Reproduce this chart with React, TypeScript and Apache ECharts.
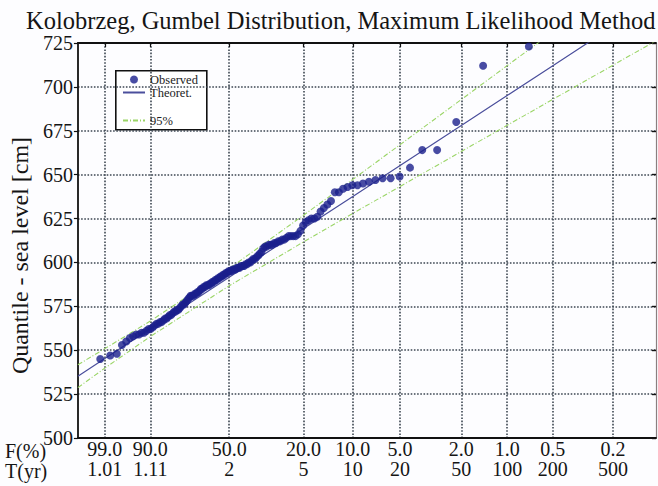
import React, { useEffect, useRef } from 'react';
import * as echarts from 'echarts';

// Exceedance probabilities (%) marked on the Gumbel probability axis, with return periods
const EXCEED_PCT = [99, 90, 50, 20, 10, 5, 2, 1, 0.5, 0.2];
const F_LABELS = ['99.0', '90.0', '50.0', '20.0', '10.0', '5.0', '2.0', '1.0', '0.5', '0.2'];
const T_LABELS = ['1.01', '1.11', '2', '5', '10', '20', '50', '100', '200', '500'];

// Annual maximum sea levels at Kolobrzeg [cm], sorted ascending
const OBSERVED = [
  545, 547, 548, 553, 555, 557, 558, 559, 559, 560,
  560, 561, 562, 562, 563, 564, 565, 565, 566, 566,
  567, 568, 568, 569, 570, 570, 571, 572, 572, 573,
  573, 574, 575, 576, 576, 577, 578, 579, 580, 581,
  581, 581, 582, 582, 583, 583, 584, 585, 585, 586,
  586, 587, 587, 587, 588, 588, 589, 589, 590, 590,
  591, 591, 592, 592, 593, 593, 594, 594, 595, 595,
  595, 596, 596, 596, 597, 597, 597, 598, 598, 598,
  599, 599, 600, 600, 601, 602, 602, 603, 604, 605,
  606, 608, 609, 609, 610, 610, 610, 611, 611, 612,
  612, 613, 613, 614, 615, 615, 615, 615, 616, 618,
  621, 623, 624, 625, 625, 626, 629, 631, 633, 635,
  640, 640, 642, 643, 644, 644, 645, 646, 647, 648,
  648, 649, 654, 664, 664, 680, 712, 723,
];

// Fitted quantile curve and its 95% confidence limits, at Gumbel reduced variates
const CURVE_Y = [-1.937, -1.527, -0.834, 0.367, 1.5, 2.25, 2.97, 3.902, 4.6, 5.296, 6.214, 6.867];
const THEORETICAL = [535.2, 545.3, 562.2, 591.6, 619.3, 637.6, 655.2, 678.0, 695.1, 712.1, 734.5, 750.5];
const UPPER_95 = [541.7, 550.9, 566.6, 596.5, 626.9, 647.3, 667.1, 692.8, 712.1, 731.3, 756.6, 774.7];
const LOWER_95 = [528.7, 539.8, 557.8, 586.7, 611.7, 627.9, 643.3, 663.2, 678.1, 692.9, 712.4, 726.3];

const FONT = "'Liberation Serif', 'Times New Roman', serif";

// Gumbel reduced variate of a non-exceedance probability
const reduced = (nonExceed: number) => -Math.log(-Math.log(nonExceed));
const TICK_X = EXCEED_PCT.map((p) => reduced(1 - p / 100));

const X_MIN = -1.937;
const X_MAX = 6.867;

export default function App() {
  const ref = useRef<HTMLDivElement>(null);

  useEffect(() => {
    if (!ref.current) return;
    const chart = echarts.init(ref.current, null, { renderer: 'svg' });
    const n = OBSERVED.length;
    // Weibull plotting positions i/(n+1)
    const observedPts = OBSERVED.map((v, i) => [reduced((i + 1) / (n + 1)), v]);
    const pair = (ys: number[]) => CURVE_Y.map((x, i) => [x, ys[i]]);

    const labelFor = (v: number) => {
      let best = 0;
      TICK_X.forEach((t, i) => {
        if (Math.abs(t - v) < Math.abs(TICK_X[best] - v)) best = i;
      });
      return `${F_LABELS[best]}\n${T_LABELS[best]}`;
    };

    const gridLine = () => ({
      show: true,
      lineStyle: { color: '#3c4652', width: 1.6, type: 'dotted' },
    });
    const frame = (color = '#111', width = 1.8) => ({ show: true, onZero: false, lineStyle: { color, width } });
    const bandColor = '#9bd567';
    const bandStyle = { color: bandColor, width: 1.1, type: [5, 2, 1, 2] };
    const legendText = { fontFamily: FONT, fontSize: 12.5, color: '#222' };

    chart.setOption({
      animation: false,
      backgroundColor: '#fdfdff',
      title: {
        text: 'Kolobrzeg, Gumbel Distribution, Maximum Likelihood Method',
        left: 21,
        top: 3,
        textStyle: { fontFamily: FONT, fontSize: 24.5, fontWeight: 'normal', color: '#151515' },
      },
      grid: { left: 76, right: 2, top: 43, bottom: 48, containLabel: false },
      legend: [
        {
          data: [
            { name: 'Observed' },
            { name: 'Theoret.', itemStyle: { opacity: 0 } },
          ],
          orient: 'vertical',
          left: 122,
          top: 73,
          itemGap: 0,
          itemWidth: 22,
          itemHeight: 8,
          padding: 0,
          textStyle: legendText,
        },
        {
          data: [{ name: '95%', itemStyle: { opacity: 0 } }],
          orient: 'vertical',
          left: 122,
          top: 114,
          itemWidth: 22,
          itemHeight: 8,
          padding: 0,
          textStyle: legendText,
        },
      ],
      xAxis: [
        {
          type: 'value',
          min: X_MIN,
          max: X_MAX,
          position: 'bottom',
          axisLine: frame(),
          axisTick: { show: false, customValues: TICK_X },
          axisLabel: {
            customValues: TICK_X,
            formatter: labelFor,
            fontFamily: FONT,
            fontSize: 20,
            lineHeight: 20,
            color: '#151515',
            margin: 1,
          },
          splitLine: gridLine(),
        },
        {
          type: 'value',
          min: X_MIN,
          max: X_MAX,
          position: 'top',
          axisLine: frame(),
          axisTick: { show: true, inside: true, length: 4, customValues: TICK_X, lineStyle: { color: '#111', width: 1.2 } },
          axisLabel: { show: false },
          splitLine: { show: false },
        },
      ],
      yAxis: [
        {
          type: 'value',
          min: 500,
          max: 725,
          interval: 25,
          position: 'left',
          name: 'Quantile - sea level [cm]',
          nameLocation: 'middle',
          nameGap: 44,
          nameTextStyle: { fontFamily: FONT, fontSize: 24, color: '#151515', padding: [0, 30, 0, 0] },
          axisLine: frame(),
          axisTick: { show: true, length: 4, lineStyle: { color: '#111', width: 1.2 } },
          axisLabel: { fontFamily: FONT, fontSize: 20, color: '#151515', margin: 5 },
          splitLine: gridLine(),
        },
        {
          type: 'value',
          min: 500,
          max: 725,
          interval: 25,
          position: 'right',
          axisLine: frame('#8a7f80', 1.2),
          axisTick: { show: true, inside: true, length: 4, lineStyle: { color: '#111', width: 1.4 } },
          axisLabel: { show: false },
          splitLine: { show: false },
        },
      ],
      graphic: [
        {
          type: 'rect',
          left: 115,
          top: 70,
          shape: { width: 91, height: 59 },
          style: { fill: '#fff', stroke: '#111', lineWidth: 1.6 },
          z: 0,
        },
        {
          type: 'text',
          left: 5,
          top: 441,
          style: { text: 'F(%)', font: `20px ${FONT}`, fill: '#151515' },
        },
        {
          type: 'text',
          left: 5,
          top: 461,
          style: { text: 'T(yr)', font: `20px ${FONT}`, fill: '#151515' },
        },
      ],
      series: [
        {
          name: '95%',
          type: 'line',
          data: pair(UPPER_95),
          symbol: 'none',
          lineStyle: bandStyle,
          itemStyle: { color: bandColor },
          z: 3,
        },
        {
          name: '95%',
          type: 'line',
          data: pair(LOWER_95),
          symbol: 'none',
          lineStyle: bandStyle,
          itemStyle: { color: bandColor },
          z: 3,
        },
        {
          name: 'Theoret.',
          type: 'line',
          data: pair(THEORETICAL),
          symbol: 'none',
          lineStyle: { color: '#4b4f9c', width: 1.2 },
          itemStyle: { color: '#4b4f9c' },
          z: 4,
        },
        {
          name: 'Observed',
          type: 'scatter',
          data: observedPts,
          symbol: 'circle',
          symbolSize: 8,
          itemStyle: { color: '#1a1f8c' },
          z: 5,
        },
      ],
    });
    return () => chart.dispose();
  }, []);

  return (
    <div
      ref={ref}
      style={{ position: 'absolute', left: 0, top: 0, width: 658, height: 486 }}
    />
  );
}
